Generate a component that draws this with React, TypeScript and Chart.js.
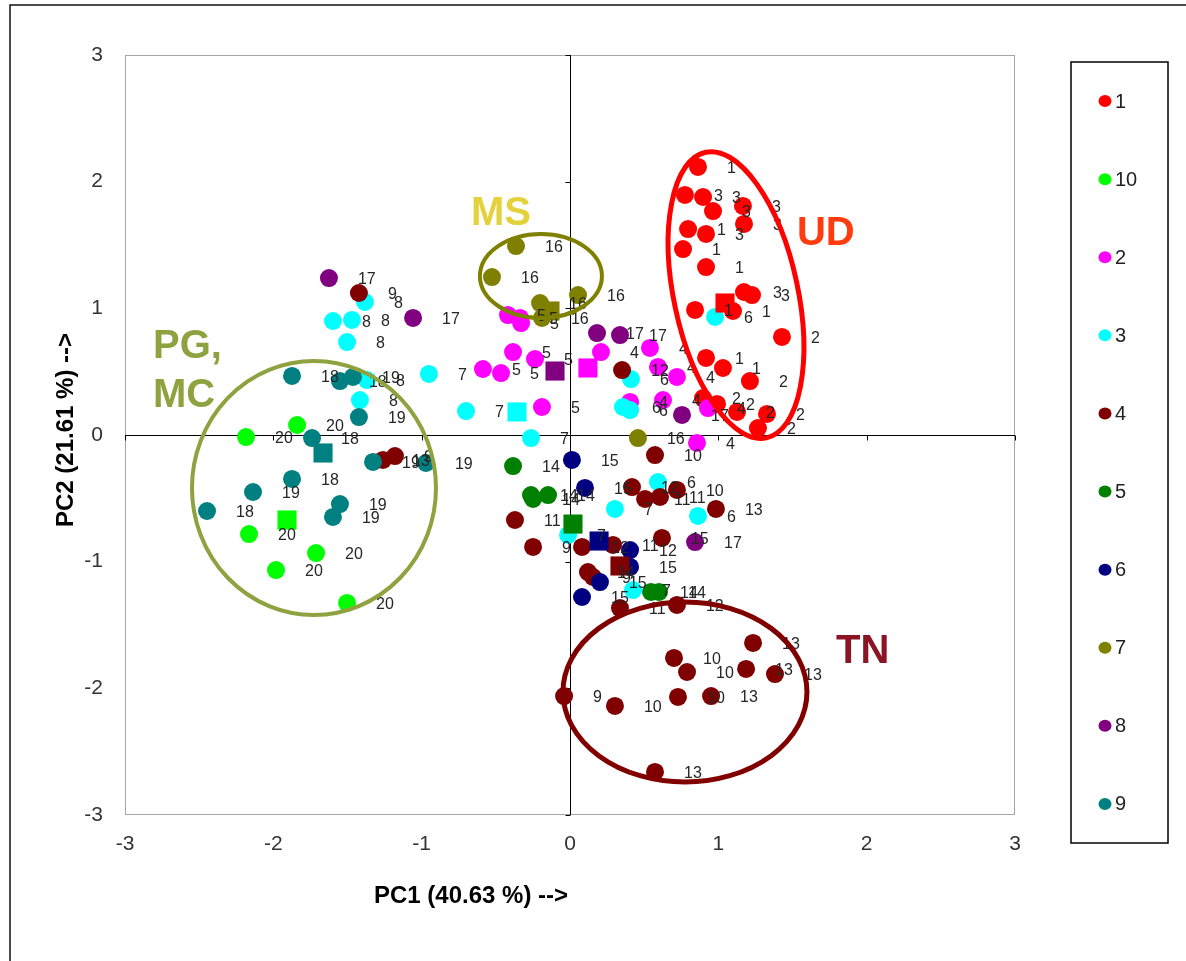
import React, { useEffect, useRef } from 'react';
import { Chart, registerables } from 'chart.js';

Chart.register(...registerables);

type Pt = [number, number, string];

// Series names (legend order) and colours
const seriesNames = ['1', '10', '2', '3', '4', '5', '6', '7', '8', '9'];
const seriesColors = ['#FF0000', '#00FF00', '#FF00FF', '#00FFFF', '#800000', '#008000', '#000080', '#808000', '#800080', '#008080'];

// Samples: [PC1, PC2, label]
const s1: Pt[] = [
  [0.863, 2.116, '1'], [0.775, 1.895, '3'], [0.897, 1.879, '3'], [0.964, 1.768, '3'],
  [1.166, 1.808, '3'], [1.173, 1.666, '3'], [0.796, 1.626, '1'], [0.917, 1.587, '3'],
  [0.762, 1.468, '1'], [0.917, 1.326, '1'], [1.173, 1.129, '3'], [1.227, 1.105, '3'],
  [0.843, 0.987, '1'], [1.099, 0.979, '1'], [1.429, 0.774, '2'], [0.917, 0.608, '1'],
  [1.031, 0.529, '1'], [1.213, 0.426, '2'], [0.897, 0.292, '2'], [0.991, 0.245, '2'],
  [1.126, 0.182, '2'], [1.328, 0.166, '2'], [1.267, 0.055, '2'],
];
const s10: Pt[] = [
  [-2.184, -0.016, '20'], [-1.840, 0.079, '20'], [-2.164, -0.782, '20'],
  [-1.712, -0.932, '20'], [-1.982, -1.066, '20'], [-1.503, -1.326, '20'],
];
const s2: Pt[] = [
  [-0.418, 0.947, '5'], [-0.337, 0.924, '5'], [-0.330, 0.884, '5'], [-0.384, 0.655, '5'],
  [-0.236, 0.600, '5'], [-0.587, 0.521, '5'], [-0.465, 0.489, '5'], [-0.189, 0.221, '5'],
  [0.209, 0.655, '4'], [0.539, 0.687, '4'], [0.593, 0.537, '4'], [0.721, 0.458, '4'],
  [0.405, 0.261, '4'], [0.627, 0.276, '4'], [0.930, 0.213, '4'], [0.856, -0.063, '4'],
];
const s3: Pt[] = [
  [-1.382, 1.050, '8'], [-1.598, 0.900, '8'], [-1.470, 0.908, '8'], [-1.503, 0.734, '8'],
  [-0.951, 0.482, '7'], [-1.369, 0.434, '8'], [-1.416, 0.276, '8'], [-0.701, 0.189, '7'],
  [-0.263, -0.024, '7'], [0.978, 0.932, '6'], [0.411, 0.442, '6'], [0.357, 0.221, '6'],
  [0.405, 0.197, '6'], [0.593, -0.371, '6'], [0.303, -0.584, '7'], [0.863, -0.639, '6'],
  [-0.013, -0.789, '7'], [0.425, -1.224, '7'],
];
const s4: Pt[] = [
  [-1.423, 1.121, '9'], [-1.261, -0.197, '13'], [-1.180, -0.166, '9'], [-0.371, -0.671, '11'],
  [-0.249, -0.884, '9'], [0.081, -0.884, '12'], [0.290, -0.868, '11'], [0.351, 0.513, '12'],
  [0.573, -0.158, '10'], [0.418, -0.411, '12'], [0.506, -0.505, '11'], [0.607, -0.489, '11'],
  [0.721, -0.434, '10'], [0.984, -0.584, '13'], [0.620, -0.813, '15'], [0.121, -1.082, '14'],
  [0.155, -1.121, '9'], [0.337, -1.366, '11'], [0.721, -1.342, '12'], [1.234, -1.642, '13'],
  [0.701, -1.760, '10'], [0.789, -1.871, '10'], [1.187, -1.847, '13'], [1.382, -1.887, '13'],
  [0.728, -2.068, '10'], [0.951, -2.061, '13'], [0.303, -2.139, '10'], [-0.040, -2.061, '9'],
  [0.573, -2.660, '13'],
];
const s5: Pt[] = [
  [-0.384, -0.245, '14'], [-0.263, -0.474, '14'], [-0.249, -0.505, '14'],
  [-0.148, -0.474, '14'], [0.546, -1.239, '14'], [0.600, -1.239, '14'],
];
const s6: Pt[] = [
  [0.013, -0.197, '15'], [0.101, -0.418, '15'], [0.405, -0.908, '12'],
  [0.405, -1.042, '15'], [0.202, -1.161, '15'], [0.081, -1.279, '15'],
];
const s7: Pt[] = [
  [-0.364, 1.492, '16'], [-0.526, 1.247, '16'], [-0.202, 1.042, '16'],
  [-0.189, 0.924, '16'], [0.054, 1.105, '16'], [0.458, -0.024, '16'],
];
const s8: Pt[] = [
  [-1.625, 1.239, '17'], [-1.058, 0.924, '17'], [0.182, 0.805, '17'],
  [0.337, 0.789, '17'], [0.755, 0.158, '17'], [0.843, -0.845, '17'],
];
const s9: Pt[] = [
  [-1.874, 0.466, '18'], [-1.551, 0.426, '18'], [-1.463, 0.458, '19'], [-1.423, 0.142, '19'],
  [-1.739, -0.024, '18'], [-1.328, -0.213, '19'], [-0.971, -0.221, '19'], [-1.874, -0.347, '18'],
  [-2.137, -0.450, '19'], [-2.447, -0.600, '18'], [-1.551, -0.545, '19'], [-1.598, -0.647, '19'],
];

// Group centroids (squares), same order as seriesNames
const centroids: [number, number][] = [
  [1.045, 1.042], [-1.908, -0.671], [0.121, 0.529], [-0.357, 0.182], [0.337, -1.034],
  [0.020, -0.703], [0.196, -0.837], [-0.135, 0.979], [-0.101, 0.505], [-1.665, -0.142],
];

const allSeries: Pt[][] = [s1, s10, s2, s3, s4, s5, s6, s7, s8, s9];

// Axis settings
const axisMin = -3;
const axisMax = 3;
const xTitle = 'PC1 (40.63 %) -->';
const yTitle = 'PC2 (21.61 %) -->';

// Group annotations (centre in data units, radii in px)
const groupEllipses = [
  { cx: -1.726, cy: -0.418, rx: 122, ry: 127, rot: 0, color: '#8EA33F', w: 4 },
  { cx: -0.196, cy: 1.255, rx: 61, ry: 42, rot: 0, color: '#808000', w: 4 },
  { cx: 1.119, cy: 1.105, rx: 62, ry: 146, rot: -12, color: '#FF0000', w: 5 },
  { cx: 0.775, cy: -2.029, rx: 122, ry: 90, rot: 0, color: '#800000', w: 5 },
];
const groupLabels = [
  { text: 'MS', x: -0.465, y: 1.745, align: 'center', color: '#E4D13C' },
  { text: 'UD', x: 1.530, y: 1.587, align: 'left', color: '#FF3B0F' },
  { text: 'PG,', x: -2.811, y: 0.695, align: 'left', color: '#8EA33F' },
  { text: 'MC', x: -2.811, y: 0.308, align: 'left', color: '#8EA33F' },
  { text: 'TN', x: 1.793, y: -1.713, align: 'left', color: '#8B1525' },
];

const FONT = '"Liberation Sans", Arial, sans-serif';

const overlay = {
  id: 'overlay',
  beforeDatasetsDraw(chart: any) {
    const { ctx, chartArea: a, scales } = chart;
    const x = scales.x, y = scales.y;
    ctx.save();
    ctx.strokeStyle = '#A6A6A6';
    ctx.lineWidth = 1;
    ctx.strokeRect(a.left + 0.5, a.top + 0.5, a.right - a.left - 1, a.bottom - a.top - 1);
    const x0 = Math.round(x.getPixelForValue(0)) + 0.5;
    const y0 = Math.round(y.getPixelForValue(0)) + 0.5;
    ctx.strokeStyle = '#000';
    ctx.beginPath();
    ctx.moveTo(x0, a.top);
    ctx.lineTo(x0, a.bottom);
    ctx.moveTo(a.left, y0);
    ctx.lineTo(a.right, y0);
    y.ticks.forEach((t: any) => {
      const py = Math.round(y.getPixelForValue(t.value)) + 0.5;
      ctx.moveTo(x0 - 5, py);
      ctx.lineTo(x0, py);
    });
    x.ticks.forEach((t: any) => {
      const px = Math.round(x.getPixelForValue(t.value)) + 0.5;
      ctx.moveTo(px, y0);
      ctx.lineTo(px, y0 + 5);
    });
    ctx.stroke();
    ctx.restore();
  },
  afterDatasetsDraw(chart: any) {
    const { ctx, scales } = chart;
    const x = scales.x, y = scales.y;
    ctx.save();
    // data labels
    ctx.font = `16px ${FONT}`;
    ctx.fillStyle = '#262626';
    ctx.textAlign = 'left';
    ctx.textBaseline = 'middle';
    allSeries.forEach((pts, i) => {
      const meta = chart.getDatasetMeta(i);
      meta.data.forEach((el: any, j: number) => {
        ctx.fillText(pts[j][2], el.x + 29, el.y + 2);
      });
    });
    // ellipses
    groupEllipses.forEach((e) => {
      ctx.beginPath();
      ctx.strokeStyle = e.color;
      ctx.lineWidth = e.w;
      ctx.ellipse(x.getPixelForValue(e.cx), y.getPixelForValue(e.cy), e.rx, e.ry, (e.rot * Math.PI) / 180, 0, Math.PI * 2);
      ctx.stroke();
    });
    // group names
    ctx.font = `bold 40px ${FONT}`;
    groupLabels.forEach((g) => {
      ctx.fillStyle = g.color;
      ctx.textAlign = g.align as CanvasTextAlign;
      ctx.fillText(g.text, x.getPixelForValue(g.x), y.getPixelForValue(g.y));
    });
    ctx.restore();
  },
  afterDraw(chart: any) {
    const { ctx, chartArea: a } = chart;
    ctx.save();
    // axis titles
    ctx.fillStyle = '#000';
    ctx.font = `bold 24px ${FONT}`;
    ctx.textAlign = 'center';
    ctx.textBaseline = 'middle';
    ctx.fillText(xTitle, a.left + 346, a.bottom + 81);
    ctx.save();
    ctx.translate(a.left - 59, a.top + 375);
    ctx.rotate(-Math.PI / 2);
    ctx.fillText(yTitle, 0, 0);
    ctx.restore();
    // legend
    const lx = a.right + 56, ly = a.top + 7, lw = 97, lh = 781;
    ctx.strokeStyle = '#000';
    ctx.lineWidth = 1.5;
    ctx.strokeRect(lx, ly, lw, lh);
    const step = lh / seriesNames.length;
    ctx.font = `20px ${FONT}`;
    ctx.textAlign = 'left';
    seriesNames.forEach((n, i) => {
      const cy = ly + step * (i + 0.5);
      ctx.fillStyle = seriesColors[i];
      ctx.beginPath();
      ctx.ellipse(lx + 34, cy, 6.5, 6, 0, 0, Math.PI * 2);
      ctx.fill();
      ctx.fillStyle = '#222';
      ctx.fillText(n, lx + 44, cy + 1);
    });
    // outer frame
    ctx.lineWidth = 1.5;
    ctx.strokeStyle = '#111';
    ctx.strokeRect(10, 5, 1400, 1200);
    ctx.restore();
  },
};

export default function App() {
  const ref = useRef<HTMLCanvasElement | null>(null);
  useEffect(() => {
    if (!ref.current) return;
    const datasets: any[] = [];
    allSeries.forEach((pts, i) => {
      datasets.push({
        label: seriesNames[i],
        data: pts.map((p) => ({ x: p[0], y: p[1] })),
        backgroundColor: seriesColors[i],
        borderWidth: 0,
        pointStyle: 'circle',
        pointRadius: 9,
        order: 100 - i,
      });
    });
    centroids.forEach((c, i) => {
      datasets.push({
        label: seriesNames[i] + ' centroid',
        data: [{ x: c[0], y: c[1] }],
        backgroundColor: seriesColors[i],
        borderWidth: 0,
        pointStyle: 'rect',
        pointRadius: 13.5,
        order: 50 - i,
      });
    });
    const chart = new Chart(ref.current, {
      type: 'scatter',
      data: { datasets },
      options: {
        responsive: false,
        animation: false,
        layout: { padding: { left: 0, top: 55, right: 171, bottom: 0 } },
        plugins: { legend: { display: false }, tooltip: { enabled: false } },
        scales: {
          x: {
            type: 'linear',
            min: axisMin,
            max: axisMax,
            ticks: { stepSize: 1, padding: 17, color: '#333', font: { size: 21, family: FONT } },
            grid: { display: false, drawTicks: false },
            border: { display: false },
            afterFit: (s: any) => { s.height = 146; },
          },
          y: {
            type: 'linear',
            min: axisMin,
            max: axisMax,
            ticks: { stepSize: 1, padding: 22, color: '#333', font: { size: 21, family: FONT } },
            grid: { display: false, drawTicks: false },
            border: { display: false },
            afterFit: (s: any) => { s.width = 125; },
          },
        },
      },
      plugins: [overlay],
    });
    return () => chart.destroy();
  }, []);
  return (
    <div style={{ position: 'fixed', left: 0, top: 0, width: 1186, height: 961, background: '#fff' }}>
      <canvas ref={ref} width={1186} height={961} style={{ display: 'block' }} />
    </div>
  );
}
